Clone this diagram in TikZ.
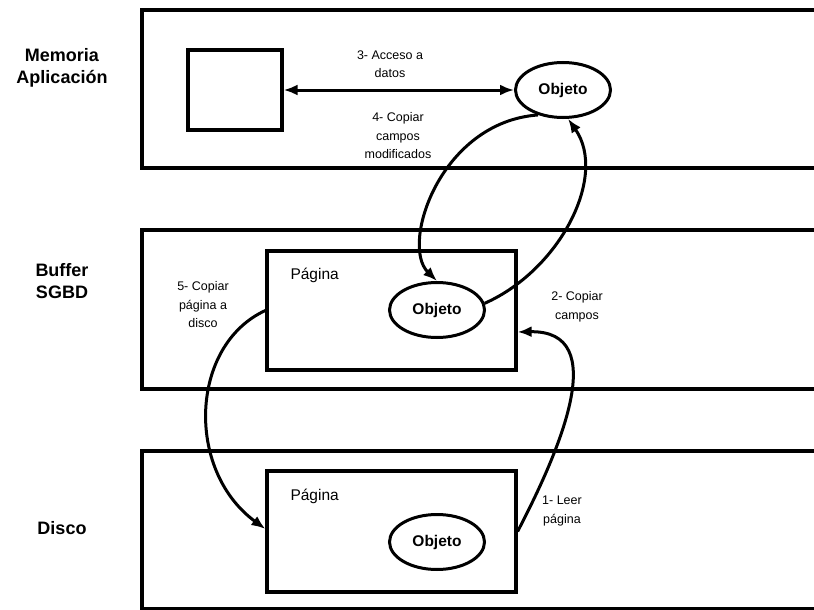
\documentclass[tikz,border=0pt]{standalone}
\usepackage{fontspec}
\setmainfont{Liberation Sans}
\usetikzlibrary{shapes.geometric,arrows.meta}
\begin{document}
\begin{tikzpicture}[x=1pt,y=-1pt,
  lane/.style={draw,line width=3.4pt},
  layerlbl/.style={font=\fontsize{18}{22}\selectfont\bfseries,align=center},
  pagebox/.style={draw,line width=3.2pt,rectangle,inner sep=0pt},
  objnode/.style={draw,ellipse,line width=3pt,inner sep=0pt,
    minimum width=95pt,minimum height=55pt,font=\fontsize{15.5}{18}\selectfont\bfseries},
  steplbl/.style={font=\fontsize{12.5}{18.5}\selectfont,align=center},
  pagelbl/.style={font=\fontsize{15.5}{18}\selectfont,anchor=west},
  flow/.style={line width=3pt,-{Latex[length=14pt,width=11pt]}},
  flowboth/.style={line width=3pt,{Latex[length=14pt,width=11pt]}-{Latex[length=14pt,width=11pt]}}]
\useasboundingbox (0,0) rectangle (814,610);
\clip (0,0) rectangle (814,610);
\fill[white] (0,0) rectangle (814,610);

% layer frames
\draw[lane] (142,10) rectangle (840,168);
\draw[lane] (142,230) rectangle (840,389);
\draw[lane] (142,451) rectangle (840,608.5);

% layer names
\node[layerlbl] (lblmem) at (62,68) {Memoria\\Aplicación};
\node[layerlbl] (lblbuf) at (62,281) {Buffer\\SGBD};
\node[layerlbl] (lbldisk) at (62,528) {Disco};

% application memory
\node[pagebox,minimum width=94pt,minimum height=80pt] (var) at (235,90) {};
\node[objnode] (objA) at (563,90) {Objeto};

% DBMS buffer
\node[pagebox,minimum width=249pt,minimum height=119pt] (pageB) at (391.5,310.5) {};
\node[pagelbl] (pageBlbl) at (287,275) {Página};
\node[objnode] (objB) at (437,310) {Objeto};

% disk
\node[pagebox,minimum width=249pt,minimum height=121pt] (pageC) at (391.5,531.5) {};
\node[pagelbl] (pageClbl) at (287,496) {Página};
\node[objnode] (objC) at (437,542) {Objeto};

% step labels
\node[steplbl] (s1) at (562,511) {1- Leer\\página};
\node[steplbl] (s2) at (577,307) {2- Copiar\\campos};
\node[steplbl] (s3) at (390,64) {3- Acceso a\\datos};
\node[steplbl] (s4) at (398,136) {4- Copiar\\campos\\modificados};
\node[steplbl] (s5) at (203,305) {5- Copiar\\página a\\disco};

% flows
\draw[flowboth] (var.east) -- (objA.west);
\draw[flow] (objA.225) .. controls (440,122) and (400,245) .. (objB.north);
\draw[flow] (objB.8) .. controls (560,270) and (608,176) .. (objA.280);
\draw[flow] (pageC.east) .. controls (560,450) and (612,330) .. ([yshift=-21.5pt]pageB.east);
\draw[flow] (pageB.west) .. controls (190,345) and (185,470) .. ([yshift=2.5pt]pageC.west);
\end{tikzpicture}
\end{document}
